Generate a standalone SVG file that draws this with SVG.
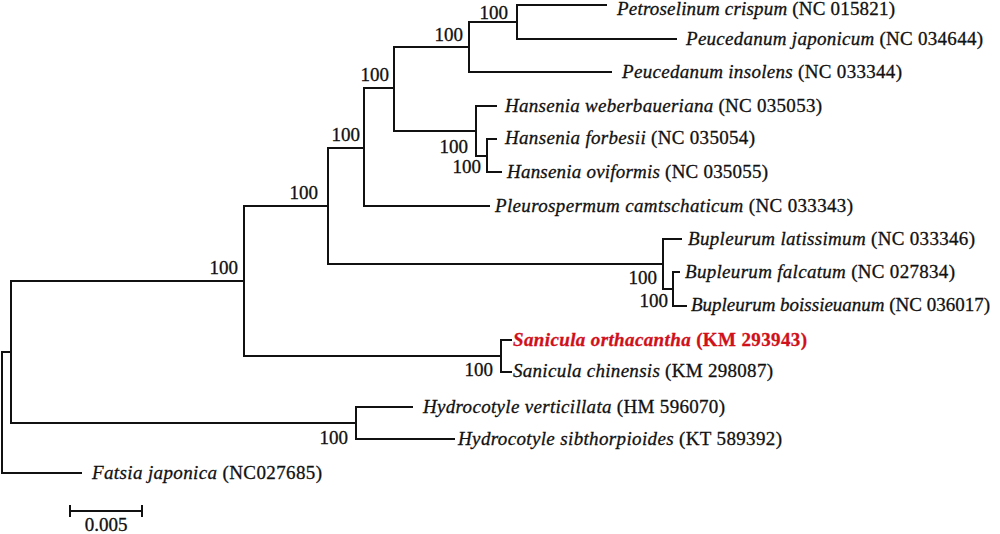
<svg xmlns="http://www.w3.org/2000/svg" width="1000" height="534" viewBox="0 0 1000 534">
<style>
.br{fill:none;stroke:#111;stroke-width:2;stroke-linejoin:miter}
.lab{font-family:"Liberation Serif","Times New Roman",serif;font-size:19px;fill:#111;stroke:#111;stroke-width:0.3}
.sp{font-family:"Liberation Serif","Times New Roman",serif;font-size:19px;fill:#111;stroke:#111;stroke-width:0.3;text-anchor:end}
.it{font-style:italic}
.hl{fill:#d0101a;stroke:#d0101a;font-weight:bold}
</style>
<rect width="1000" height="534" fill="#fff"/>
<g id="connectors">
<path class="br" d="M11,352 H2 V473 H82"/>
<path class="br" d="M244,281 H11 V423 H356"/>
<path class="br" d="M328,206 H244 V356 H501"/>
<path class="br" d="M364,148 H328 V264 H663"/>
<path class="br" d="M394,88 H364 V206 H490"/>
<path class="br" d="M469,47 H394 V131 H476"/>
<path class="br" d="M517,22 H469 V72 H612"/>
<path class="br" d="M607,5 H517 V39 H677"/>
<path class="br" d="M497,106 H476 V156 H487"/>
<path class="br" d="M497,139 H487 V172 H502"/>
<path class="br" d="M682,239 H663 V289 H673"/>
<path class="br" d="M680,272 H673 V306 H687"/>
<path class="br" d="M512,340 H501 V372 H512"/>
<path class="br" d="M413,407 H356 V439 H455"/>
</g>
<g id="support">
<text class="sp" x="508" y="19">100</text>
<text class="sp" x="463" y="41">100</text>
<text class="sp" x="389" y="81">100</text>
<text class="sp" x="360" y="141">100</text>
<text class="sp" x="318" y="199">100</text>
<text class="sp" x="238" y="274">100</text>
<text class="sp" x="468" y="153">100</text>
<text class="sp" x="481" y="173">100</text>
<text class="sp" x="657" y="284">100</text>
<text class="sp" x="668" y="307">100</text>
<text class="sp" x="493" y="376">100</text>
<text class="sp" x="348" y="444">100</text>
</g>
<g id="leaf-petroselinum-crispum"><text class="lab" x="617" y="15" textLength="278" lengthAdjust="spacing"><tspan class="it">Petroselinum crispum</tspan> (NC 015821)</text></g>
<g id="leaf-peucedanum-japonicum"><text class="lab" x="686" y="45" textLength="297" lengthAdjust="spacing"><tspan class="it">Peucedanum japonicum</tspan> (NC 034644)</text></g>
<g id="leaf-peucedanum-insolens"><text class="lab" x="622" y="78" textLength="280" lengthAdjust="spacing"><tspan class="it">Peucedanum insolens</tspan> (NC 033344)</text></g>
<g id="leaf-hansenia-weberbaueriana"><text class="lab" x="505" y="112" textLength="317" lengthAdjust="spacing"><tspan class="it">Hansenia weberbaueriana</tspan> (NC 035053)</text></g>
<g id="leaf-hansenia-forbesii"><text class="lab" x="505" y="144" textLength="250" lengthAdjust="spacing"><tspan class="it">Hansenia forbesii</tspan> (NC 035054)</text></g>
<g id="leaf-hansenia-oviformis"><text class="lab" x="507" y="178" textLength="261" lengthAdjust="spacing"><tspan class="it">Hansenia oviformis</tspan> (NC 035055)</text></g>
<g id="leaf-pleurospermum-camtschaticum"><text class="lab" x="495" y="212" textLength="358" lengthAdjust="spacing"><tspan class="it">Pleurospermum camtschaticum</tspan> (NC 033343)</text></g>
<g id="leaf-bupleurum-latissimum"><text class="lab" x="688" y="245" textLength="287" lengthAdjust="spacing"><tspan class="it">Bupleurum latissimum</tspan> (NC 033346)</text></g>
<g id="leaf-bupleurum-falcatum"><text class="lab" x="685" y="278" textLength="270" lengthAdjust="spacing"><tspan class="it">Bupleurum falcatum</tspan> (NC 027834)</text></g>
<g id="leaf-bupleurum-boissieuanum"><text class="lab" x="691" y="311" textLength="299" lengthAdjust="spacing"><tspan class="it">Bupleurum boissieuanum</tspan> (NC 036017)</text></g>
<g id="leaf-sanicula-orthacantha"><text class="lab hl" x="513" y="346" textLength="294" lengthAdjust="spacing"><tspan class="it">Sanicula orthacantha</tspan> (KM 293943)</text></g>
<g id="leaf-sanicula-chinensis"><text class="lab" x="513" y="377" textLength="260" lengthAdjust="spacing"><tspan class="it">Sanicula chinensis</tspan> (KM 298087)</text></g>
<g id="leaf-hydrocotyle-verticillata"><text class="lab" x="423" y="413" textLength="302" lengthAdjust="spacing"><tspan class="it">Hydrocotyle verticillata</tspan> (HM 596070)</text></g>
<g id="leaf-hydrocotyle-sibthorpioides"><text class="lab" x="458" y="445" textLength="324" lengthAdjust="spacing"><tspan class="it">Hydrocotyle sibthorpioides</tspan> (KT 589392)</text></g>
<g id="leaf-fatsia-japonica"><text class="lab" x="92" y="479" textLength="230" lengthAdjust="spacing"><tspan class="it">Fatsia japonica</tspan> (NC027685)</text></g>
<g id="scale-bar">
<path class="br" d="M70,511 H142 M70,505 V517 M142,505 V517"/>
<text class="lab" x="106" y="531" text-anchor="middle">0.005</text>
</g>
</svg>
